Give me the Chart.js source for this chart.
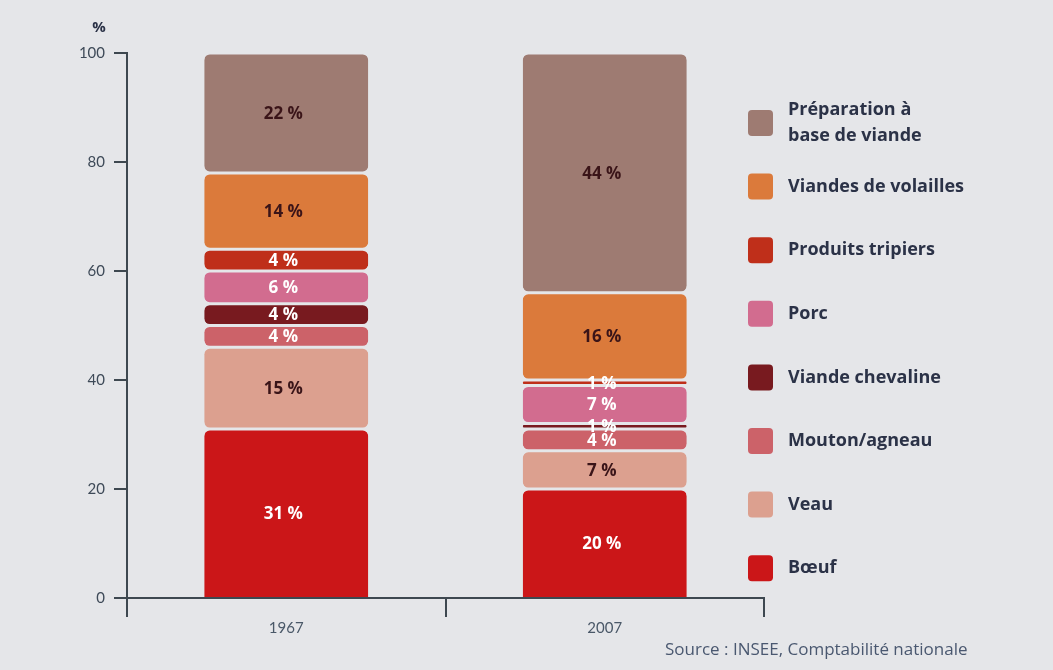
<!DOCTYPE html>
<html>
<head>
<meta charset="utf-8">
<script src="https://cdn.jsdelivr.net/npm/chart.js@4.4.1/dist/chart.umd.min.js"></script>
<style>
  html, body { margin: 0; padding: 0; background: #e5e6e9; }
  .chart-wrap { position: relative; width: 1053px; height: 670px; }
</style>
</head>
<body>
<div class="chart-wrap">
  <canvas id="viande"></canvas>
</div>
<script>
const years = ['1967', '2007'];

// stacking order, bottom to top
const seriesNames = [
  'Bœuf',
  'Veau',
  'Mouton/agneau',
  'Viande chevaline',
  'Porc',
  'Produits tripiers',
  'Viandes de volailles',
  'Préparation à\nbase de viande'
];

const boeuf = [31, 20];
const veau = [15, 7];
const mouton = [4, 4];
const chevaline = [4, 1];
const porc = [6, 7];
const tripiers = [4, 1];
const volailles = [14, 16];
const preparation = [22, 44];

const yTicks = [0, 20, 40, 60, 80, 100];

const seriesValues = [boeuf, veau, mouton, chevaline, porc, tripiers, volailles, preparation];
const seriesColors = ['#cb1618', '#dca08f', '#cc6269', '#781a1f', '#d26c8f', '#bf2f1a', '#db7a3b', '#9e7b72'];
const textColors = ['#fff', '#3a1418', '#fff', '#fff', '#fff', '#fff', '#3a1418', '#3a1418'];

const BG = '#e5e6e9';
const AXIS = '#3e4850';
const INK = '#2b3247';

const datasets = seriesNames.map((name, i) => ({
  label: name,
  data: seriesValues[i],
  backgroundColor: seriesColors[i],
  borderColor: BG,
  borderWidth: i === 0 ? { top: 1.5, left: 0, right: 0, bottom: 0 } : { top: 1.5, bottom: 1.5, left: 0, right: 0 },
  borderSkipped: false,
  borderRadius: i === 0
    ? { topLeft: 7, topRight: 7, bottomLeft: 0, bottomRight: 0 }
    : { topLeft: 7, topRight: 7, bottomLeft: 7, bottomRight: 7 },
  barPercentage: 0.515,
  categoryPercentage: 1
}));

// percentage written in the middle of each segment
const segmentLabels = {
  id: 'segmentLabels',
  afterDatasetsDraw(chart) {
    const ctx = chart.ctx;
    ctx.save();
    ctx.font = 'bold 17px "Open Sans"';
    ctx.textAlign = 'center';
    ctx.textBaseline = 'middle';
    chart.data.datasets.forEach((ds, i) => {
      chart.getDatasetMeta(i).data.forEach((bar, j) => {
        ctx.fillStyle = textColors[i];
        ctx.fillText(ds.data[j] + ' %', bar.x - 3, (bar.y + bar.base) / 2 + 1);
      });
    });
    ctx.restore();
  }
};

// legend on the right, top entry first, plus unit and source
const sideNotes = {
  id: 'sideNotes',
  afterDraw(chart) {
    const ctx = chart.ctx;
    ctx.save();
    const n = chart.data.datasets.length;
    for (let k = 0; k < n; k++) {
      const ds = chart.data.datasets[n - 1 - k];
      const cy = 123 + k * 63.6;
      ctx.fillStyle = ds.backgroundColor;
      ctx.beginPath();
      ctx.roundRect(748, cy - 13, 25, 26, 4);
      ctx.fill();
      ctx.fillStyle = INK;
      ctx.font = 'bold 18px "Open Sans"';
      ctx.textAlign = 'left';
      ctx.textBaseline = 'middle';
      const lines = ds.label.split('\n');
      lines.forEach((line, l) => {
        ctx.fillText(line, 788, cy + (l - (lines.length - 1) / 2) * 26);
      });
    }
    ctx.fillStyle = INK;
    ctx.font = 'bold 15px "Open Sans"';
    ctx.textAlign = 'center';
    ctx.fillText('%', 99, 28);
    ctx.fillStyle = '#4a5870';
    ctx.font = '17px "Open Sans"';
    ctx.textAlign = 'left';
    ctx.fillText('Source : INSEE, Comptabilité nationale', 665, 650);
    ctx.restore();
  }
};

new Chart(document.getElementById('viande'), {
  type: 'bar',
  data: { labels: years, datasets },
  options: {
    responsive: true,
    maintainAspectRatio: false,
    animation: false,
    layout: { padding: { top: 53, right: 289, left: 0, bottom: 0 } },
    plugins: {
      legend: { display: false },
      tooltip: { enabled: false }
    },
    scales: {
      x: {
        stacked: true,
        afterFit: (scale) => { scale.height = 72; },
        border: { color: AXIS, width: 2 },
        grid: { drawOnChartArea: false, color: AXIS, lineWidth: 2, tickLength: 19, offset: true },
        ticks: { color: '#4a5868', font: { family: 'Lato', size: 15 }, padding: 2 }
      },
      y: {
        stacked: true,
        min: 0,
        max: 100,
        afterFit: (scale) => { scale.width = 127; },
        afterBuildTicks: (scale) => { scale.ticks = yTicks.map(v => ({ value: v })); },
        border: { color: AXIS, width: 2 },
        grid: { drawOnChartArea: false, color: AXIS, lineWidth: 2, tickLength: 13 },
        ticks: { color: '#3e4a58', font: { family: 'Lato', size: 15 }, padding: 9 }
      }
    }
  },
  plugins: [segmentLabels, sideNotes]
});
</script>
</body>
</html>
